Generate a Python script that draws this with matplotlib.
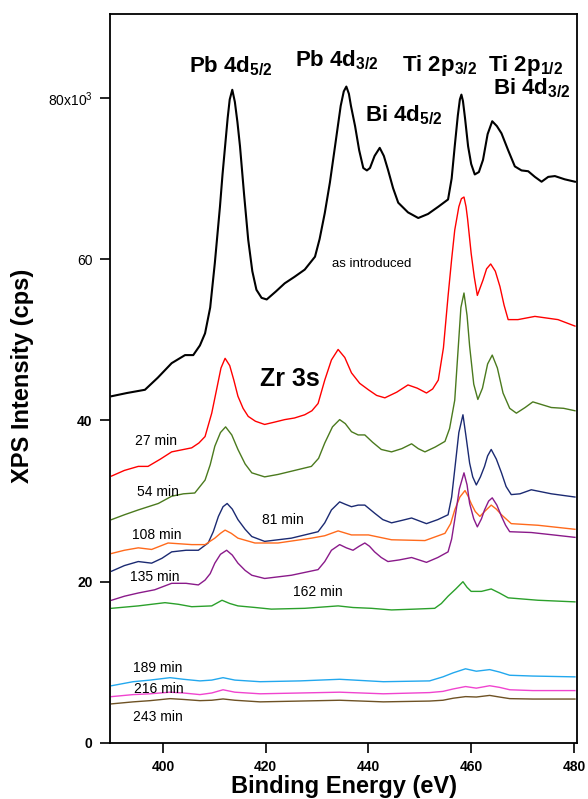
import matplotlib
matplotlib.use('Agg')
import matplotlib.pyplot as plt

plt.rcParams['font.family'] = ['Liberation Sans', 'DejaVu Sans']
plt.rcParams['mathtext.fontset'] = 'custom'
plt.rcParams['mathtext.rm'] = 'Liberation Sans'
plt.rcParams['mathtext.bf'] = 'Liberation Sans:bold'
plt.rcParams['mathtext.it'] = 'Liberation Sans:italic'

# binding energy (eV) / intensity (x10^3 cps)
be_asintro = [390.0, 393, 396.5, 399, 401.7, 404.3, 405.9, 407.2, 408.2, 409.2, 410.1, 411.1,
              411.6, 412.1, 412.6, 413.0, 413.5, 414.0, 414.5, 415.0, 415.8, 416.6, 417.4, 418.2,
              419.2, 420.2, 422, 423.7, 425.6, 427.6, 429.6, 430.5, 431.5, 432.5, 433.5, 434.6,
              435.2, 435.7, 436.2, 436.6, 437.4, 438.2, 439.0, 439.7, 440.3, 441.2, 442.2, 443.0,
              443.8, 444.8, 445.8, 447.7, 449.7, 451.6, 453.6, 455.5, 456.2, 456.8, 457.4, 457.8,
              458.1, 458.4, 458.8, 459.4, 460.0, 460.7, 461.5, 462.3, 463.2, 464.1, 465.0, 465.9,
              467.2, 468.5, 469.8, 471.1, 472.4, 473.7, 475.0, 476.3, 478.2, 480.2]
int_asintro = [43.0, 43.4, 43.8, 45.3, 47.1, 48.1, 48.1, 49.3, 50.8, 54.0, 59.5, 66.5,
               70.5, 74.0, 77.5, 79.8, 81.0, 79.5, 77.0, 74.0, 68.0, 62.4, 58.5, 56.2,
               55.2, 55.0, 56.0, 57.0, 57.8, 58.7, 60.3, 62.5, 65.7, 69.5, 74.0, 79.0,
               80.8, 81.4, 80.5, 79.0, 76.5, 73.5, 71.3, 71.0, 71.3, 72.8, 73.8, 72.8,
               71.1, 68.8, 67.0, 65.8, 65.1, 65.6, 66.5, 67.4, 70.0, 74.0, 77.8, 79.8,
               80.4, 79.6, 77.5, 74.0, 71.8, 70.5, 70.8, 72.3, 75.5, 77.1, 76.5, 75.6,
               73.5, 71.5, 71.0, 70.9, 70.2, 69.6, 70.2, 70.3, 69.9, 69.6]

be_27 = [390.0, 392.5, 395.2, 397.1, 399.5, 401.7, 405.6, 407.0, 408.2, 409.5, 410.5, 411.3,
         412.1, 413.0, 413.8, 414.6, 415.6, 416.6, 418.0, 419.8, 421.8, 423.7, 425.6, 427.6,
         429.0, 430.2, 431.5, 432.8, 434.1, 435.4, 436.7, 438.3, 440.0, 441.6, 443.2, 445.5,
         447.7, 449.5, 451.3, 452.5, 453.6, 454.6, 455.5, 456.2, 456.8, 457.6, 458.1, 458.6,
         459.0, 459.3, 460.0, 460.6, 461.2, 462.3, 463.0, 463.8, 464.7, 465.6, 466.4, 467.2,
         469.1, 472.4, 476.9, 480.2]
int_27 = [33.1, 33.8, 34.3, 34.3, 35.2, 36.1, 36.6, 37.2, 38.0, 40.9, 44.0, 46.5,
          47.7, 46.8, 45.0, 43.0, 41.5, 40.5, 39.9, 39.5, 39.8, 40.1, 40.3, 40.7,
          41.2, 42.1, 45.0, 47.5, 48.8, 47.8, 45.9, 44.6, 43.8, 43.1, 42.8, 43.5,
          44.4, 44.0, 43.4, 43.9, 45.0, 49.0, 55.4, 60.0, 63.6, 66.5, 67.5, 67.7,
          66.5, 65.0, 60.7, 57.8, 55.5, 57.4, 58.8, 59.4, 58.5, 56.6, 54.3, 52.5,
          52.5, 52.9, 52.5, 51.7]

be_54 = [390.0, 392.5, 395.2, 399.1, 401.7, 404, 406.2, 408.2, 409.2, 410.1, 411.2, 412.2,
         413.4, 414.6, 416.0, 417.3, 419.8, 422.4, 425.0, 428.9, 430.3, 431.5, 433.0, 434.4,
         435.5, 436.7, 438.0, 439.3, 440.8, 442.5, 444.5, 446.5, 448.4, 449.7, 451.0, 453.0,
         454.9, 455.8, 456.8, 457.5, 458.0, 458.6, 459.2, 459.7, 460.5, 461.3, 462.2, 463.2,
         464.1, 465.1, 466.2, 467.5, 468.8, 470.5, 472.0, 475.6, 478.0, 480.2]
int_54 = [27.7, 28.3, 28.9, 29.7, 30.6, 30.9, 31.0, 32.6, 34.5, 36.8, 38.5, 39.2,
          38.2, 36.4, 34.6, 33.5, 33.0, 33.3, 33.7, 34.3, 35.3, 37.2, 39.2, 40.1,
          39.6, 38.6, 38.2, 38.2, 37.3, 36.4, 36.1, 36.5, 37.1, 36.5, 36.1, 36.7,
          37.4, 39.0, 42.5, 49.2, 54.0, 55.8, 53.0, 49.2, 44.5, 42.6, 44.0, 47.0,
          48.1, 46.5, 43.4, 41.5, 40.9, 41.6, 42.3, 41.6, 41.5, 41.2]

be_81 = [390.0, 392.5, 395.2, 397.8, 399.8, 401.7, 404.5, 406.9, 408.8, 409.8, 410.8, 411.7,
         412.5, 413.5, 414.6, 416.0, 417.3, 419.8, 422.4, 425.0, 430.2, 431.5, 432.8, 434.4,
         435.5, 436.7, 438.0, 439.3, 441.2, 442.8, 444.5, 446.5, 448.4, 451.3, 453.5, 455.5,
         456.2, 456.8, 457.6, 458.4, 459.0, 459.7, 460.3, 461.0, 461.8, 462.6, 463.2, 463.9,
         464.9, 465.9, 466.8, 467.8, 469.5, 471.7, 475.6, 480.2]
int_81 = [21.3, 22.0, 22.5, 22.3, 22.9, 23.7, 23.9, 23.9, 24.8, 26.2, 28.1, 29.3,
          29.7, 29.0, 27.7, 26.5, 25.6, 25.0, 25.2, 25.4, 26.2, 27.3, 28.9, 29.9,
          29.6, 29.3, 29.5, 29.5, 28.5, 27.7, 27.3, 27.6, 27.9, 27.2, 27.7, 28.3,
          30.5, 33.9, 38.5, 40.7, 38.0, 34.7, 33.0, 32.0, 33.0, 34.3, 35.6, 36.4,
          35.2, 33.5, 31.8, 30.8, 30.9, 31.4, 30.9, 30.5]

be_108 = [390.0, 392.5, 395.2, 397.8, 401.0, 405.6, 408.2, 410.1, 411.2, 412.1, 413.3, 414.6,
          417.9, 422.4, 428.9, 431.5, 434.1, 436.7, 440.0, 444.5, 451.0, 454.9, 456.0, 456.8,
          457.8, 458.8, 459.4, 460.0, 460.8, 461.7, 462.6, 463.9, 464.9, 465.9, 467.8, 473.0,
          480.2]
int_108 = [23.5, 23.9, 24.2, 24.0, 24.8, 24.6, 24.6, 25.4, 26.0, 26.4, 26.0, 25.4,
           24.8, 24.8, 25.4, 25.7, 26.3, 25.8, 25.8, 25.2, 25.1, 26.0, 27.2, 28.9,
           30.5, 31.3, 30.6, 29.7, 28.7, 28.1, 28.7, 29.5, 29.0, 28.3, 27.2, 27.0,
           26.5]

be_135 = [390.0, 392.5, 395.2, 398.4, 401.7, 404.5, 406.9, 408.2, 409.2, 410.1, 411.2, 412.4,
          413.5, 414.6, 416.0, 417.3, 419.8, 422.4, 425.0, 430.2, 431.5, 432.8, 434.4, 435.7,
          437.0, 438.2, 439.3, 440.2, 441.2, 442.5, 443.8, 446.0, 448.4, 451.3, 453.5, 455.5,
          456.2, 456.8, 457.7, 458.6, 459.2, 459.7, 460.5, 461.2, 462.0, 462.6, 463.4, 464.1,
          465.0, 465.9, 466.7, 467.5, 471.7, 476.0, 480.2]
int_135 = [17.7, 18.2, 18.6, 19.0, 19.8, 19.8, 19.6, 20.2, 21.0, 22.3, 23.4, 23.9,
           23.3, 22.3, 21.4, 20.8, 20.4, 20.6, 20.8, 21.5, 22.5, 23.9, 24.6, 24.2,
           23.9, 24.4, 24.8, 24.4, 23.7, 23.0, 22.5, 22.7, 23.0, 22.4, 23.0, 23.7,
           25.3, 27.7, 31.5, 33.5, 32.0, 29.7, 27.8, 26.8, 27.8, 28.9, 30.0, 30.4,
           29.5, 28.1, 27.0, 26.2, 26.1, 25.8, 25.5]

be_162 = [390.0, 395.2, 400.4, 403, 405.6, 409.5, 411.5, 413, 414.6, 418, 421.1, 427.6,
          434.1, 437, 440.6, 444.5, 449, 452.9, 454.2, 455.5, 457.0, 458.4, 459.2, 460.0,
          462.0, 463.9, 465.5, 467.2, 473.0, 480.2]
int_162 = [16.7, 17.0, 17.4, 17.2, 16.9, 17.0, 17.7, 17.3, 17.0, 16.8, 16.6, 16.7,
           17.0, 16.8, 16.7, 16.5, 16.6, 16.7, 17.3, 18.2, 19.1, 20.0, 19.3, 18.8,
           18.8, 19.1, 18.6, 18.0, 17.7, 17.5]

be_late = [390.0, 394.2, 397.5, 401.4, 404, 407.2, 409.5, 411.7, 414, 418.9, 426.7, 434.4,
           442.9, 451.9, 454.5, 456.5, 458.9, 461.0, 463.6, 465.5, 467.5, 472.0, 480.2]
int_189 = [7.1, 7.6, 7.8, 8.1, 7.9, 7.7, 7.8, 8.1, 7.8, 7.6, 7.7, 7.9,
           7.6, 7.7, 8.2, 8.7, 9.2, 8.9, 9.1, 8.8, 8.4, 8.3, 8.2]
int_216 = [5.75, 6.0, 6.1, 6.3, 6.2, 6.0, 6.2, 6.6, 6.3, 6.1, 6.2, 6.3,
           6.1, 6.25, 6.4, 6.7, 7.0, 6.8, 7.1, 6.9, 6.6, 6.5, 6.5]
int_243 = [4.85, 5.1, 5.25, 5.5, 5.4, 5.25, 5.3, 5.46, 5.3, 5.1, 5.2, 5.3,
           5.1, 5.2, 5.3, 5.55, 5.75, 5.7, 5.9, 5.7, 5.5, 5.45, 5.45]

fig = plt.figure(figsize=(5.88, 7.99), dpi=100)
ax = fig.add_axes([0.1871, 0.0701, 0.7942, 0.9124])

# (energies, intensities, colour, linewidth)
spectra = [
    (be_asintro, int_asintro, 'black', 1.5),
    (be_27, int_27, '#ff0000', 1.0),
    (be_54, int_54, '#4b7a1e', 1.0),
    (be_81, int_81, '#1b2a72', 1.0),
    (be_108, int_108, '#ff6a1c', 1.0),
    (be_135, int_135, '#8a1a8a', 1.0),
    (be_162, int_162, '#2ba02b', 1.0),
    (be_late, int_189, '#22a8ee', 1.0),
    (be_late, int_216, '#f044cf', 1.0),
    (be_late, int_243, '#6e5224', 1.0),
]
for be, cps, col, lw in spectra:
    ax.plot(be, cps, color=col, lw=lw, solid_joinstyle='round')

ax.set_xlim(389.7, 480.6)
ax.set_ylim(0, 90.4)
ax.set_xticks([400, 420, 440, 460, 480])
ax.set_yticks([0, 20, 40, 60, 80])
ax.set_yticklabels(['0', '20', '40', '60', r'80x10$^{3}$'])
ax.tick_params(direction='out', length=7.5, width=1.2, labelsize=10, pad=5)
for lab in ax.get_xticklabels():
    lab.set_fontweight('bold')
for lab in ax.get_yticklabels()[:3]:
    lab.set_fontweight('bold')
for sp in ax.spines.values():
    sp.set_linewidth(1.3)

# peak labels
peak_kw = dict(fontsize=16, fontweight='bold', ha='left', va='baseline')
ax.text(405.06, 83.2, r'Pb 4d$_{\mathbf{5/2}}$', **peak_kw)
ax.text(425.69, 83.85, r'Pb 4d$_{\mathbf{3/2}}$', **peak_kw)
ax.text(446.46, 83.35, r'Ti 2p$_{\mathbf{3/2}}$', **peak_kw)
ax.text(463.26, 83.35, r'Ti 2p$_{\mathbf{1/2}}$', **peak_kw)
ax.text(464.23, 80.43, r'Bi 4d$_{\mathbf{3/2}}$', **peak_kw)
ax.text(439.32, 77.06, r'Bi 4d$_{\mathbf{5/2}}$', **peak_kw)
ax.text(418.88, 44.28, 'Zr 3s', fontsize=18, fontweight='bold', ha='left', va='baseline')

# sputter time labels
ax.text(432.9, 59.0, 'as introduced', fontsize=9.5, ha='left', va='baseline')
times = ['27 min', '54 min', '81 min', '108 min', '135 min', '162 min', '189 min', '216 min', '243 min']
time_e = [394.55, 394.94, 419.27, 393.97, 393.58, 425.30, 394.16, 394.36, 394.16]
time_i = [36.96, 30.64, 27.16, 25.30, 20.09, 18.23, 8.84, 6.24, 2.73]
for t, e, i in zip(times, time_e, time_i):
    ax.text(e, i, t, fontsize=10, ha='left', va='baseline')

fig.text(23 / 588, 1 - 376 / 799, 'XPS Intensity (cps)', rotation=90, fontsize=17,
         fontweight='bold', ha='center', va='center')
fig.text(344 / 588, 1 / 799, 'Binding Energy (eV)', fontsize=17,
         fontweight='bold', ha='center', va='bottom')

fig.savefig('out.png', dpi=100)
